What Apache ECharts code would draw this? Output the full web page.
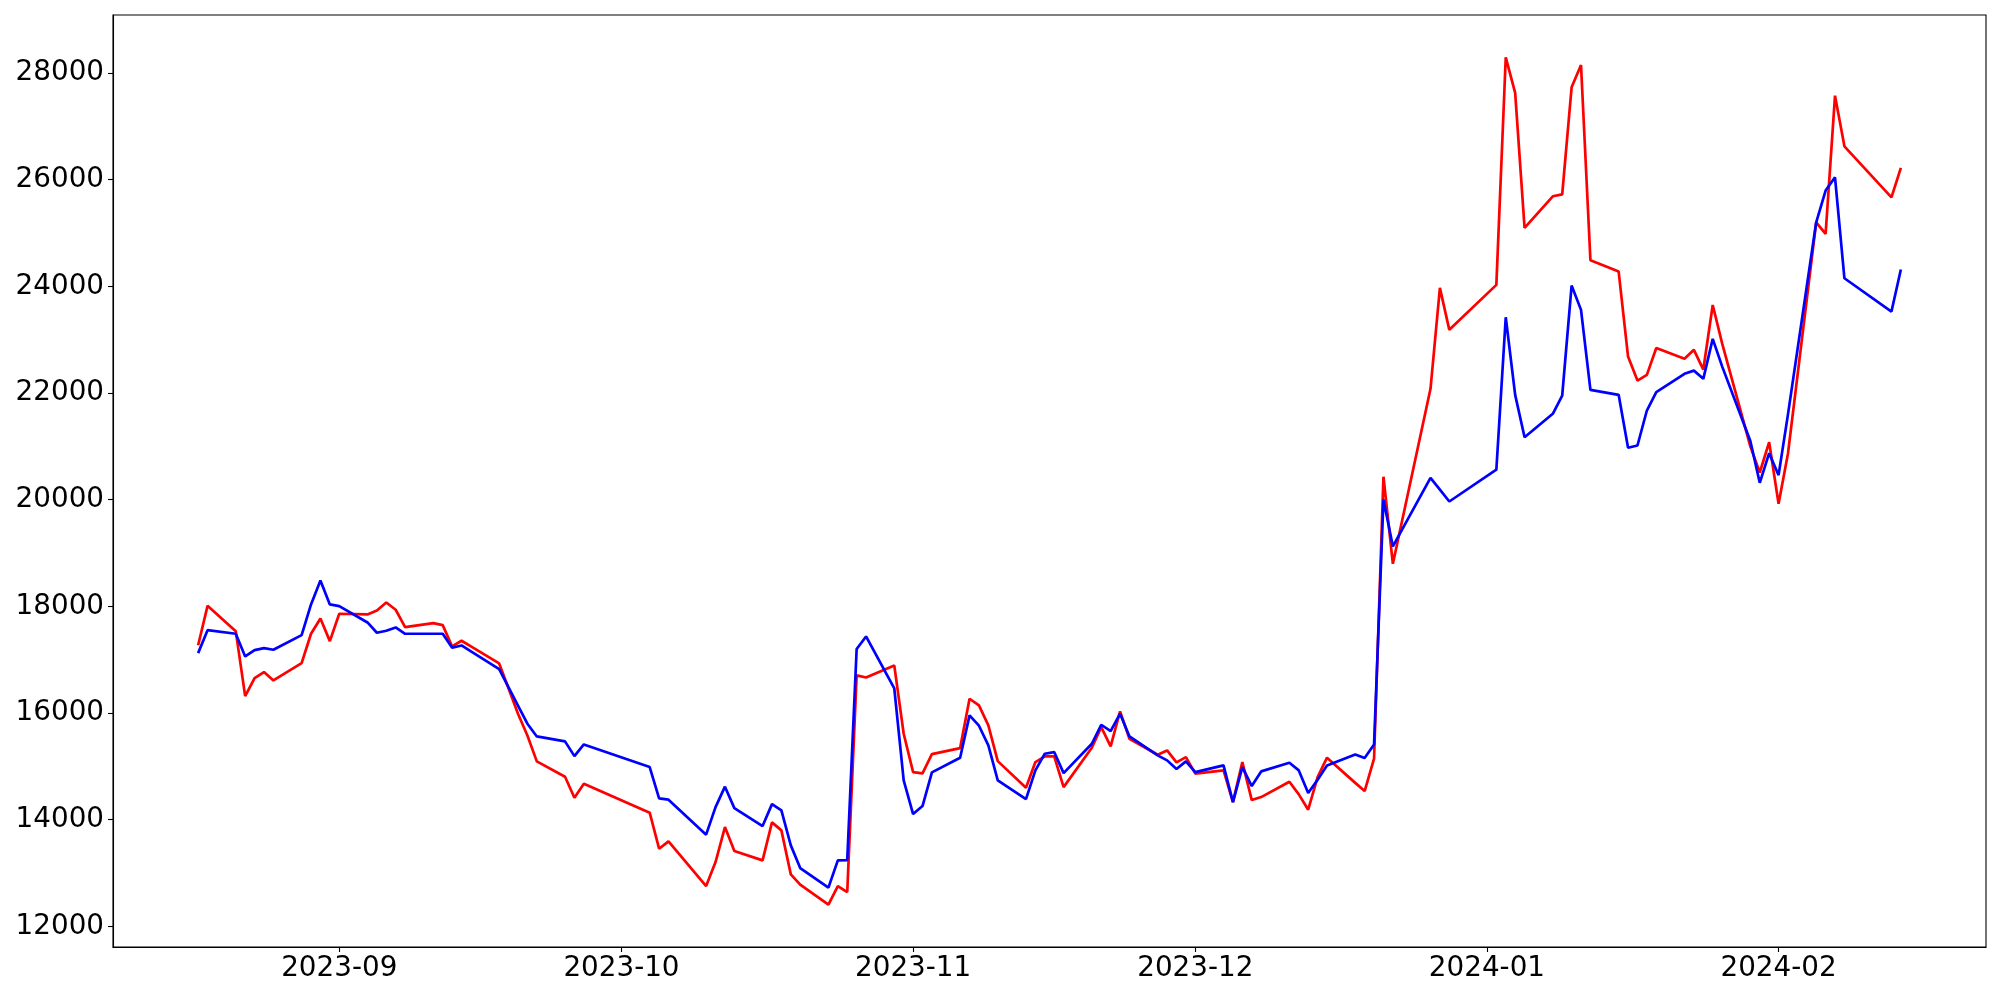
<!DOCTYPE html>
<html>
<head>
<meta charset="utf-8">
<script src="https://cdn.jsdelivr.net/npm/echarts@6/dist/echarts.min.js"></script>
<style>
html,body{margin:0;padding:0;background:#fff;}
#chart{width:2000px;height:1000px;}
</style>
</head>
<body>
<div id="chart"></div>
<script>
// Trading dates (KRX calendar)
const dates = [
 '2023-08-17','2023-08-18','2023-08-21','2023-08-22','2023-08-23','2023-08-24','2023-08-25','2023-08-28','2023-08-29','2023-08-30','2023-08-31',
 '2023-09-01','2023-09-04','2023-09-05','2023-09-06','2023-09-07','2023-09-08','2023-09-11','2023-09-12','2023-09-13','2023-09-14','2023-09-15',
 '2023-09-18','2023-09-19','2023-09-20','2023-09-21','2023-09-22','2023-09-25','2023-09-26','2023-09-27',
 '2023-10-04','2023-10-05','2023-10-06','2023-10-10','2023-10-11','2023-10-12','2023-10-13','2023-10-16','2023-10-17','2023-10-18','2023-10-19',
 '2023-10-20','2023-10-23','2023-10-24','2023-10-25','2023-10-26','2023-10-27','2023-10-30','2023-10-31',
 '2023-11-01','2023-11-02','2023-11-03','2023-11-06','2023-11-07','2023-11-08','2023-11-09','2023-11-10','2023-11-13','2023-11-14','2023-11-15',
 '2023-11-16','2023-11-17','2023-11-20','2023-11-21','2023-11-22','2023-11-23','2023-11-24','2023-11-27','2023-11-28','2023-11-29','2023-11-30',
 '2023-12-01','2023-12-04','2023-12-05','2023-12-06','2023-12-07','2023-12-08','2023-12-11','2023-12-12','2023-12-13','2023-12-14','2023-12-15',
 '2023-12-18','2023-12-19','2023-12-20','2023-12-21','2023-12-22','2023-12-26','2023-12-27','2023-12-28',
 '2024-01-02','2024-01-03','2024-01-04','2024-01-05','2024-01-08','2024-01-09','2024-01-10','2024-01-11','2024-01-12','2024-01-15','2024-01-16',
 '2024-01-17','2024-01-18','2024-01-19','2024-01-22','2024-01-23','2024-01-24','2024-01-25','2024-01-26','2024-01-29','2024-01-30','2024-01-31',
 '2024-02-01','2024-02-02','2024-02-05','2024-02-06','2024-02-07','2024-02-08','2024-02-13','2024-02-14'
];

const redValues = [
 17270,18010,17535,16317,16654,16767,16611,16935,17486,17773,17348,
 17861,17848,17923,18073,17936,17611,17686,17648,17248,17355,17250,
 16930,16460,15987,15580,15093,14806,14412,14674,
 14131,13456,13593,12756,13206,13862,13411,13237,13949,13799,12975,
 12781,12407,12756,12643,16705,16667,16890,15612,
 14892,14868,15230,15342,16268,16142,15768,15098,14600,15080,15186,
 15186,14611,15350,15736,15374,16030,15518,15218,15299,15074,15173,
 14862,14924,14330,15080,14368,14424,14712,14474,14187,14799,15162,
 14690,14536,15143,20430,18798,22079,23972,23185,
 24028,28294,27627,25096,25689,25726,27732,28151,24489,24277,22684,
 22234,22340,22845,22641,22810,22440,23650,22930,21000,20510,21078,
 19923,20866,25201,24984,27576,26626,25670,26221
];

const blueValues = [
 17123,17554,17486,17061,17179,17216,17186,17460,18036,18485,18036,
 18004,17698,17505,17542,17605,17486,17486,17486,17223,17267,17156,
 16823,16480,16140,15799,15561,15468,15192,15411,
 14986,14399,14375,13719,14236,14619,14217,13880,14292,14174,13518,
 13093,12725,13237,13243,17200,17436,16464,14737,
 14105,14255,14887,15162,15955,15762,15393,14737,14386,14924,15237,
 15268,14873,15424,15780,15661,15987,15561,15205,15112,14949,15093,
 14892,15018,14330,14986,14630,14905,15068,14924,14499,14750,15018,
 15224,15155,15411,20004,19123,20410,20190,19966,
 20563,23421,21966,21171,21610,21953,24015,23559,22060,21966,20973,
 21016,21672,22015,22360,22420,22266,23016,22500,21100,20317,20872,
 20460,21600,25201,25796,26045,24152,23528,24315
];

const xTickLabels = ['2023-09','2023-10','2023-11','2023-12','2024-01','2024-02'];
const yTickValues = [12000,14000,16000,18000,20000,22000,24000,26000,28000];

function parseDate(s){ const p=s.split('-').map(Number); return Date.UTC(p[0],p[1]-1,p[2]||1); }

const xs = dates.map(parseDate);
const xMinD = Math.min(...xs), xMaxD = Math.max(...xs);
const xPad = (xMaxD - xMinD) * 0.05;
const allY = redValues.concat(blueValues);
const yMinD = Math.min(...allY), yMaxD = Math.max(...allY);
const yPad = (yMaxD - yMinD) * 0.05;
const xTickTimes = xTickLabels.map(parseDate);

const font = {fontFamily:'DejaVu Sans', fontSize:27.8, color:'#000'};

const chart = echarts.init(document.getElementById('chart'), null, {renderer:'canvas'});
chart.setOption({
  animation:false,
  backgroundColor:'#fff',
  grid:{left:113, right:14, top:15, bottom:53, show:true, borderColor:'#000', borderWidth:1.1, backgroundColor:'transparent'},
  xAxis:{
    type:'value', min:xMinD - xPad, max:xMaxD + xPad, scale:true,
    axisLine:{show:true, onZero:false, lineStyle:{color:'#000', width:1.1}},
    axisTick:{show:true, inside:false, length:5, lineStyle:{color:'#000', width:1.1}, customValues:xTickTimes},
    axisLabel:Object.assign({margin:8, customValues:xTickTimes, hideOverlap:false, showMinLabel:true, showMaxLabel:true,
      formatter:function(v){ const d=new Date(v); return d.getUTCFullYear()+'-'+String(d.getUTCMonth()+1).padStart(2,'0'); }}, font),
    splitLine:{show:false}
  },
  yAxis:{
    type:'value', min:yMinD - yPad, max:yMaxD + yPad, scale:true,
    axisLine:{show:true, onZero:false, lineStyle:{color:'#000', width:1.1}},
    axisTick:{show:true, inside:false, length:5, lineStyle:{color:'#000', width:1.1}, customValues:yTickValues},
    axisLabel:Object.assign({margin:9, customValues:yTickValues, showMinLabel:true, showMaxLabel:true, hideOverlap:false,
      formatter:function(v){return String(Math.round(v));}}, font),
    splitLine:{show:false}
  },
  series:[
    {type:'line', name:'red', data:xs.map((t,i)=>[t,redValues[i]]), showSymbol:false, symbol:'none',
     lineStyle:{color:'#ff0000', width:2.7}, itemStyle:{color:'#ff0000'}, z:2},
    {type:'line', name:'blue', data:xs.map((t,i)=>[t,blueValues[i]]), showSymbol:false, symbol:'none',
     lineStyle:{color:'#0000ff', width:2.7}, itemStyle:{color:'#0000ff'}, z:3}
  ]
});
</script>
</body>
</html>
